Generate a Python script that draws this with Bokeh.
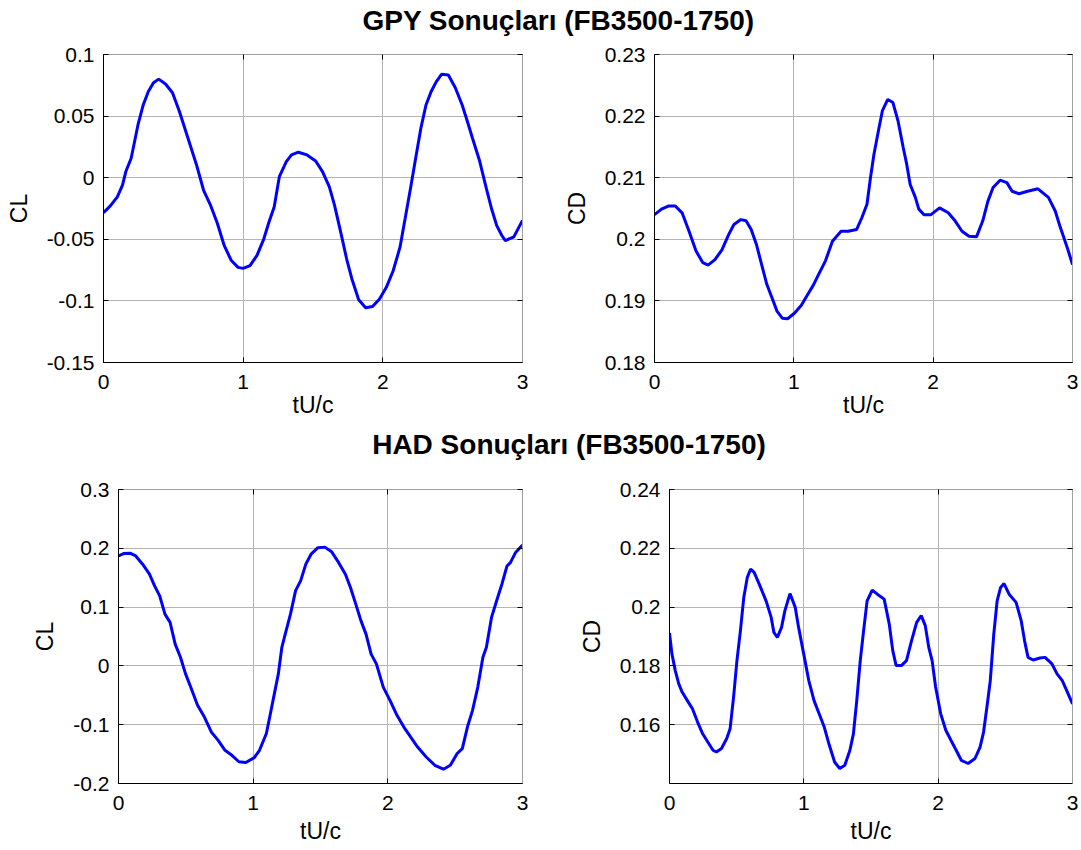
from bokeh.plotting import figure
from bokeh.models import Range1d, FixedTicker, LinearAxis, Label, Grid
from bokeh.layouts import column, row
from bokeh.embed import file_html
from bokeh.resources import INLINE

# ---------------- data ----------------
title_gpy = "GPY Sonuçları (FB3500-1750)"
title_had = "HAD Sonuçları (FB3500-1750)"
x_label = "tU/c"

x_ticks = [0, 1, 2, 3]
x_tick_labels = ["0", "1", "2", "3"]

gpy_cl_ticks = [-0.15, -0.1, -0.05, 0, 0.05, 0.1]
gpy_cl_labels = ["-0.15", "-0.1", "-0.05", "0", "0.05", "0.1"]
gpy_cd_ticks = [0.18, 0.19, 0.2, 0.21, 0.22, 0.23]
gpy_cd_labels = ["0.18", "0.19", "0.2", "0.21", "0.22", "0.23"]
had_cl_ticks = [-0.2, -0.1, 0, 0.1, 0.2, 0.3]
had_cl_labels = ["-0.2", "-0.1", "0", "0.1", "0.2", "0.3"]
had_cd_ticks = [0.16, 0.18, 0.2, 0.22, 0.24]
had_cd_labels = ["0.16", "0.18", "0.2", "0.22", "0.24"]

gpy_cl_t = [0, .049, .099, .136, .16, .198, .222, .247, .284, .321, .358, .395, .444, .494, .543,
            .605, .667, .716, .765, .815, .864, .914, .963, 1.0, 1.049, 1.099, 1.148, 1.185, 1.222,
            1.259, 1.309, 1.346, 1.395, 1.457, 1.519, 1.568, 1.617, 1.654, 1.704, 1.741, 1.778,
            1.827, 1.877, 1.926, 1.975, 2.025, 2.074, 2.123, 2.160, 2.198, 2.235, 2.272, 2.309,
            2.346, 2.383, 2.42, 2.469, 2.519, 2.568, 2.605, 2.642, 2.691, 2.741, 2.778, 2.815,
            2.852, 2.877, 2.938, 3.0]
gpy_cl = [-0.0283, -0.0229, -0.0155, -0.006, 0.005, 0.0158, 0.029, 0.043, 0.059, 0.070, 0.077,
          0.080, 0.076, 0.069, 0.054, 0.032, 0.010, -0.010, -0.022, -0.037, -0.055, -0.067,
          -0.0728, -0.0736, -0.0714, -0.063, -0.0496, -0.036, -0.0237, 0.0008, 0.013, 0.0185,
          0.0207, 0.0185, 0.0136, 0.0049, -0.0074, -0.0223, -0.047, -0.066, -0.082, -0.099,
          -0.1055, -0.1046, -0.0986, -0.089, -0.0755, -0.0564, -0.033, -0.0087, 0.0158, 0.040,
          0.059, 0.070, 0.078, 0.0839, 0.0834, 0.073, 0.059, 0.0458, 0.032, 0.0144, -0.0087,
          -0.025, -0.0387, -0.0469, -0.051, -0.048, -0.0346]

gpy_cd_t = [0, .05, .099, .149, .198, .248, .298, .347, .384, .434, .484, .533, .570, .620, .657,
            .694, .731, .769, .806, .843, .880, .917, .955, 1.004, 1.054, 1.091, 1.141, 1.178,
            1.227, 1.277, 1.339, 1.389, 1.451, 1.488, 1.525, 1.550, 1.575, 1.612, 1.636, 1.674,
            1.711, 1.748, 1.785, 1.810, 1.835, 1.872, 1.897, 1.934, 1.984, 2.046, 2.108, 2.157,
            2.207, 2.257, 2.311, 2.356, 2.393, 2.430, 2.480, 2.529, 2.566, 2.616, 2.678, 2.752,
            2.827, 2.876, 2.913, 2.963, 3.0]
gpy_cd = [0.2040, 0.2049, 0.2054, 0.2054, 0.2043, 0.2013, 0.1981, 0.1962, 0.1958, 0.1967, 0.1983,
          0.2008, 0.2024, 0.2032, 0.2030, 0.2016, 0.1992, 0.1959, 0.1927, 0.1905, 0.1883, 0.1872,
          0.1871, 0.1880, 0.1893, 0.1907, 0.1926, 0.1943, 0.1965, 0.1997, 0.2013, 0.2013, 0.2016,
          0.2035, 0.2057, 0.2100, 0.2138, 0.2182, 0.2209, 0.2227, 0.2222, 0.2192, 0.2149, 0.2122,
          0.2089, 0.2068, 0.2049, 0.2040, 0.2040, 0.2051, 0.2043, 0.2030, 0.2013, 0.2005, 0.2004,
          0.2030, 0.2062, 0.2084, 0.2096, 0.2092, 0.2078, 0.2074, 0.2078, 0.2082, 0.2068, 0.2046,
          0.2019, 0.1986, 0.1959]

had_cl_t = [0, .038, .089, .128, .179, .230, .268, .306, .345, .383, .421, .460, .498, .536, .587,
            .638, .689, .740, .791, .842, .894, .945, 1.008, 1.047, 1.098, 1.123, 1.162, 1.187,
            1.213, 1.238, 1.277, 1.315, 1.353, 1.391, 1.430, 1.481, 1.532, 1.583, 1.634, 1.685,
            1.723, 1.762, 1.800, 1.838, 1.876, 1.915, 1.966, 2.017, 2.068, 2.119, 2.170, 2.221,
            2.285, 2.349, 2.413, 2.464, 2.515, 2.553, 2.591, 2.629, 2.668, 2.706, 2.732, 2.770,
            2.808, 2.847, 2.885, 2.910, 2.949, 3.0]
had_cl = [0.187, 0.191, 0.1915, 0.187, 0.173, 0.156, 0.136, 0.119, 0.088, 0.074, 0.037, 0.0147,
          -0.0136, -0.036, -0.067, -0.087, -0.1124, -0.1266, -0.1435, -0.152, -0.163, -0.1644,
          -0.156, -0.1435, -0.115, -0.087, -0.042, -0.0136, 0.0316, 0.054, 0.088, 0.128, 0.145,
          0.173, 0.190, 0.201, 0.202, 0.194, 0.176, 0.156, 0.133, 0.105, 0.077, 0.054, 0.020,
          0.0034, -0.036, -0.059, -0.084, -0.104, -0.121, -0.138, -0.155, -0.169, -0.1757, -0.169,
          -0.149, -0.1407, -0.104, -0.0757, -0.036, 0.0147, 0.0316, 0.0825, 0.1107, 0.139, 0.170,
          0.1757, 0.193, 0.2056]

had_cd_t = [0, .018, .043, .069, .094, .133, .171, .209, .247, .285, .324, .349, .387, .426, .451,
            .477, .502, .528, .553, .579, .604, .630, .668, .719, .757, .777, .803, .834, .859,
            .897, .936, .961, .999, 1.037, 1.076, 1.114, 1.152, 1.19, 1.229, 1.267, 1.305, 1.343,
            1.369, 1.394, 1.420, 1.445, 1.471, 1.509, 1.547, 1.598, 1.636, 1.662, 1.687, 1.726,
            1.764, 1.802, 1.840, 1.874, 1.904, 1.930, 1.955, 1.981, 2.019, 2.057, 2.095, 2.134,
            2.172, 2.223, 2.274, 2.312, 2.338, 2.363, 2.388, 2.414, 2.439, 2.465, 2.490, 2.528,
            2.580, 2.618, 2.643, 2.669, 2.707, 2.758, 2.796, 2.847, 2.885, 2.924, 2.962, 3.0]
had_cd = [0.1912, 0.1841, 0.1784, 0.1739, 0.1711, 0.1682, 0.1654, 0.1609, 0.1569, 0.1541, 0.1513,
          0.1507, 0.1519, 0.1553, 0.1586, 0.1694, 0.1818, 0.1920, 0.2033, 0.2101, 0.2129, 0.2118,
          0.2078, 0.2021, 0.1965, 0.1914, 0.1897, 0.1931, 0.1988, 0.2046, 0.1999, 0.1931, 0.1841,
          0.1750, 0.1682, 0.1637, 0.1592, 0.1530, 0.1473, 0.1451, 0.1462, 0.1513, 0.1569, 0.1682,
          0.1818, 0.1920, 0.2021, 0.2058, 0.2044, 0.2027, 0.1942, 0.1852, 0.1801, 0.1801, 0.1818,
          0.1886, 0.1948, 0.1971, 0.1937, 0.1863, 0.1818, 0.1728, 0.1637, 0.1581, 0.1547, 0.1513,
          0.1479, 0.1468, 0.1485, 0.1524, 0.1575, 0.1660, 0.1750, 0.1908, 0.2021, 0.2067, 0.2080,
          0.2044, 0.2016, 0.1954, 0.1886, 0.1829, 0.1820, 0.1827, 0.1829, 0.1807, 0.1773, 0.1750,
          0.1711, 0.1671]

# ---------------- styling ----------------
FONT = "Liberation Sans"
TICK_FS = "21px"
LABEL_FS = "23px"
TITLE_FS = "28px"
GRID_COLOR = "#b4b4b4"
BOX_COLOR = "#a0a0a0"


def panel(t, v, y0, y1, yticks, ylabels, ylab, W, H, bl, br, bt, bb, xlab_standoff):
    p = figure(width=W, height=H, x_range=Range1d(0, 3), y_range=Range1d(y0, y1),
               x_axis_type=None, y_axis_type=None,
               toolbar_location=None, output_backend="svg",
               min_border_left=bl, min_border_right=br,
               min_border_top=bt, min_border_bottom=bb)
    p.outline_line_color = None
    p.background_fill_color = "white"
    p.border_fill_color = "white"

    xt = FixedTicker(ticks=x_ticks)
    yt = FixedTicker(ticks=yticks)
    xover = {k: s for k, s in zip(x_ticks, x_tick_labels)}
    yover = {k: s for k, s in zip(yticks, ylabels)}

    p.add_layout(Grid(dimension=0, ticker=xt, grid_line_color=GRID_COLOR, grid_line_width=1))
    p.add_layout(Grid(dimension=1, ticker=yt, grid_line_color=GRID_COLOR, grid_line_width=1))

    p.line(t, v, line_color="#0000ff", line_width=3)

    def style(ax, visible_labels, line_color):
        ax.major_tick_in = 5
        ax.major_tick_out = 0
        ax.minor_tick_in = 0
        ax.minor_tick_out = 0
        ax.axis_line_color = line_color
        ax.axis_line_width = 1
        ax.major_tick_line_color = "black"
        ax.major_tick_line_width = 1
        if visible_labels:
            ax.major_label_text_font = FONT
            ax.major_label_text_font_size = TICK_FS
            ax.major_label_text_color = "black"
            ax.major_label_standoff = 9
            ax.axis_label_text_font = FONT
            ax.axis_label_text_font_size = LABEL_FS
            ax.axis_label_text_font_style = "normal"
            ax.axis_label_text_color = "black"
        else:
            ax.major_label_text_font_size = "0px"
            ax.major_label_standoff = 0

    xb = LinearAxis(ticker=xt, major_label_overrides=xover, axis_label=x_label)
    style(xb, True, "black")
    xb.major_label_standoff = 12
    xb.axis_label_standoff = xlab_standoff
    p.add_layout(xb, "below")

    yl = LinearAxis(ticker=yt, major_label_overrides=yover, axis_label=ylab)
    style(yl, True, "black")
    yl.axis_label_standoff = 12
    p.add_layout(yl, "left")

    xa = LinearAxis(ticker=xt, major_label_overrides={k: "" for k in x_ticks})
    style(xa, False, BOX_COLOR)
    p.add_layout(xa, "above")

    yr = LinearAxis(ticker=yt, major_label_overrides={k: "" for k in yticks})
    style(yr, False, BOX_COLOR)
    p.add_layout(yr, "right")
    return p


def title_fig(text, W, H, cx, cy):
    p = figure(width=W, height=H, x_range=Range1d(0, W), y_range=Range1d(0, H),
               x_axis_type=None, y_axis_type=None, min_border=0,
               toolbar_location=None, output_backend="svg")
    p.outline_line_color = None
    p.background_fill_color = "white"
    p.border_fill_color = "white"
    p.add_layout(Label(x=cx, y=cy, x_units="screen", y_units="screen", text=text,
                       text_font=FONT, text_font_size=TITLE_FS, text_font_style="bold",
                       text_align="center", text_baseline="middle", text_color="black"))
    return p


TOTAL_W = 1079

t1 = title_fig(title_gpy, TOTAL_W, 38, 558, 18.5)
f1 = panel(gpy_cl_t, gpy_cl, -0.15, 0.1, gpy_cl_ticks, gpy_cl_labels, "CL",
           560, 387, 103, 38, 16, 63, 0)
f2 = panel(gpy_cd_t, gpy_cd, 0.18, 0.23, gpy_cd_ticks, gpy_cd_labels, "CD",
           519, 387, 93, 7, 16, 63, 0)
t2 = title_fig(title_had, TOTAL_W, 35, 568.5, 15.8)
f3 = panel(had_cl_t, had_cl, -0.2, 0.3, had_cl_ticks, had_cl_labels, "CL",
           575, 386, 118, 53, 29, 63, 5)
f4 = panel(had_cd_t, had_cd, 0.14, 0.24, had_cd_ticks, had_cd_labels, "CD",
           504, 386, 91, 7, 29, 63, 5)

layout = column(t1, row(f1, f2), t2, row(f3, f4))

open("out.html", "w").write(file_html(layout, INLINE))
